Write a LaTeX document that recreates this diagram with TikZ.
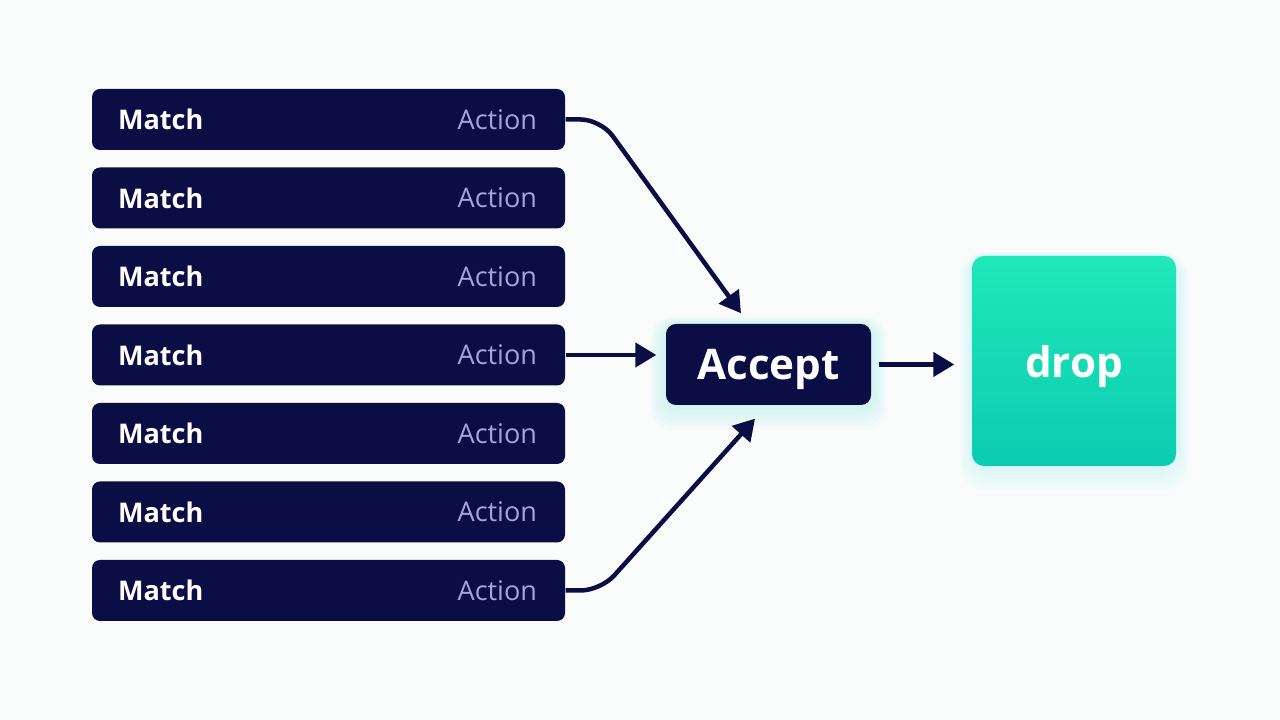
\documentclass[tikz,border=0pt]{standalone}
\usepackage{fontspec}
\setmainfont{Open Sans}
\usetikzlibrary{arrows.meta, positioning, calc, backgrounds}

\definecolor{navy}{HTML}{0B0D45}
\definecolor{actiongrey}{HTML}{A2A5DB}
\definecolor{dropTop}{HTML}{1FE8B9}
\definecolor{dropBottom}{HTML}{0BCCB1}
\definecolor{glowcol}{HTML}{6FE6E2}
\definecolor{bgcol}{HTML}{FAFCFC}

\tikzset{
  rulebox/.style={fill=navy, rounded corners=0.8mm, minimum width=4.73cm, minimum height=0.61cm, inner sep=0},
  matchtext/.style={inner sep=0, text=white, font=\fontsize{7.7}{9}\selectfont\bfseries},
  actiontext/.style={inner sep=0, text=actiongrey, font=\fontsize{7.7}{9}\selectfont},
  acceptbox/.style={fill=navy, rounded corners=1mm, minimum width=2.05cm, minimum height=0.81cm, text depth=0pt, text=white, font=\fontsize{12}{14}\selectfont\bfseries},
  dropbox/.style={top color=dropTop, bottom color=dropBottom, rounded corners=1.2mm, minimum width=2.04cm, minimum height=2.1cm, text depth=0pt, text=white, font=\fontsize{12}{14}\selectfont\bfseries},
  flow/.style={draw=navy, line width=0.45mm, -{Triangle[length=2.1mm, width=2.4mm]}}
}

\begin{document}
\begin{tikzpicture}
\useasboundingbox (0,0) rectangle (12.8,7.2);
% rule table
\foreach \i in {1,...,7} {
    \node[rulebox] (r\i) at (3.285,{6.005-0.785*(\i-1)}) {};
    \node[matchtext, anchor=west] (m\i) at ($(r\i.west)+(0.26,0)$) {Match};
    \node[actiontext, anchor=east] (a\i) at ($(r\i.east)+(-0.28,0)$) {Action};
}
\node[acceptbox] (acc) at (7.685,3.555) {Accept};
\node[dropbox] (drop) at (10.74,3.59) {drop};
% glow
\begin{scope}[on background layer]
\fill[bgcol] (0,0) rectangle (12.8,7.2);
\foreach \g in {1,...,6} {
    \fill[glowcol, opacity=0.05, rounded corners=2mm] ($(acc.south west)+(-0.025*\g,-0.04*\g)$) rectangle ($(acc.north east)+(0.025*\g,0.01*\g)$);
    \fill[glowcol, opacity=0.04, rounded corners=2.5mm] ($(drop.south west)+(-0.02*\g,-0.04*\g)$) rectangle ($(drop.north east)+(0.02*\g,0.005*\g)$);
}
\end{scope}
% connectors
\draw[flow, rounded corners=2mm] (r1.east) -- ++(0.35,0) -- ($(acc.north)+(-0.275,0.1)$);
\draw[flow, shorten >=0.9mm] (r4.east) -- (r4.east -| acc.west);
\draw[flow, rounded corners=2mm] (r7.east) -- ++(0.35,0) -- ($(acc.south)+(-0.135,-0.13)$);
\draw[flow, shorten <=0.7mm, shorten >=1.7mm] (acc.east) -- (acc.east -| drop.west);
\end{tikzpicture}
\end{document}
